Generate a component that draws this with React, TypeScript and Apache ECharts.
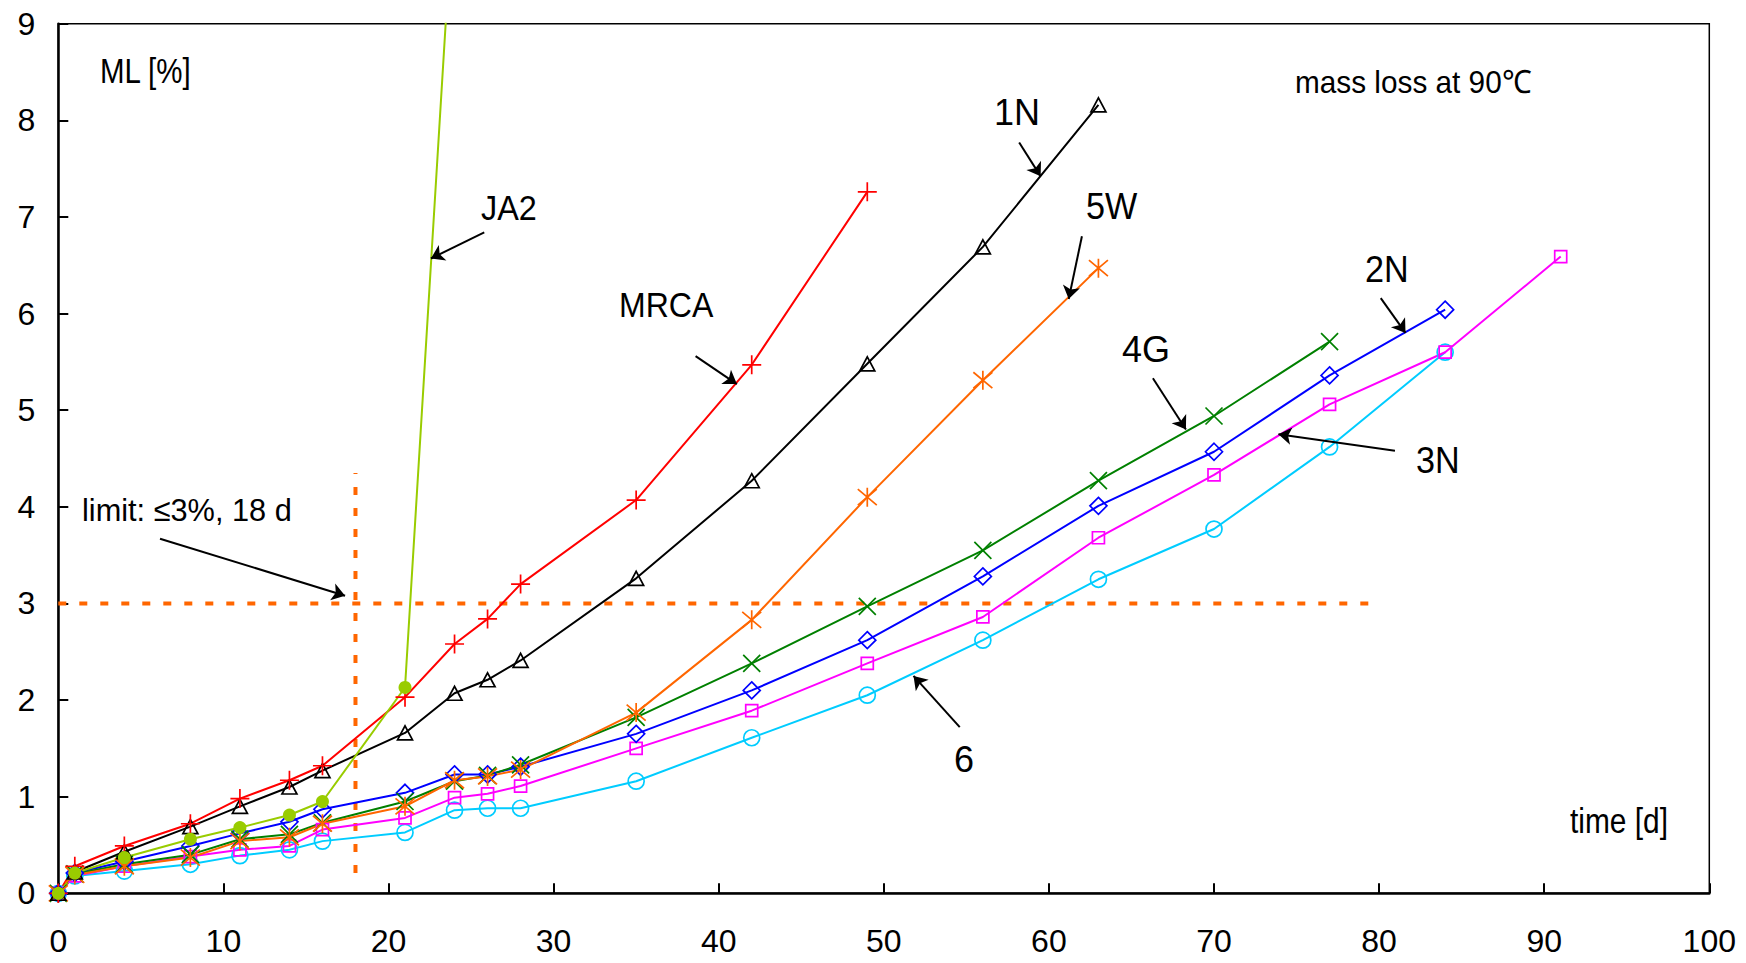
import React, { useEffect, useRef } from "react";
import * as echarts from "echarts";

// time [d]
const days = [0, 1, 4, 8, 11, 14, 16, 21, 24, 26, 28, 35, 42, 49, 56, 63, 70, 77, 84, 91];

// mass loss [%] per formulation (values follow the days array from day 0)
const mrcaValues = [0, 0.28, 0.49, 0.72, 0.98, 1.17, 1.32, 2.03, 2.58, 2.84, 3.2, 4.07, 5.47, 7.26];
const n1Values = [0, 0.22, 0.43, 0.69, 0.9, 1.1, 1.27, 1.66, 2.07, 2.21, 2.41, 3.26, 4.27, 5.48, 6.69, 8.16];
const ja2Values = [0, 0.21, 0.37, 0.56, 0.68, 0.81, 0.95, 2.13, 10.5];
const w5Values = [0, 0.19, 0.28, 0.37, 0.54, 0.58, 0.72, 0.9, 1.17, 1.21, 1.28, 1.87, 2.83, 4.1, 5.31, 6.47];
const g4Values = [0, 0.2, 0.3, 0.4, 0.56, 0.61, 0.73, 0.95, 1.16, 1.22, 1.33, 1.82, 2.38, 2.97, 3.55, 4.27, 4.94, 5.71];
const n2Values = [0, 0.21, 0.33, 0.49, 0.62, 0.74, 0.87, 1.04, 1.23, 1.23, 1.31, 1.65, 2.1, 2.62, 3.28, 4.01, 4.57, 5.36, 6.04];
const n3Values = [0, 0.18, 0.28, 0.38, 0.45, 0.49, 0.66, 0.78, 0.99, 1.03, 1.11, 1.5, 1.89, 2.38, 2.86, 3.68, 4.33, 5.06, 5.6, 6.59];
const s6Values = [0, 0.18, 0.23, 0.3, 0.39, 0.45, 0.54, 0.63, 0.86, 0.88, 0.88, 1.16, 1.61, 2.05, 2.62, 3.25, 3.77, 4.62, 5.6];

// limit: <= 3 %, 18 d
const limitHorizontal = [[0, 3], [80, 3]];
const limitVertical = [[18, 0.21], [18, 4.35]];

// axis ticks
const xTicks = { min: 0, max: 100, interval: 10 };
const yTicks = { min: 0, max: 9, interval: 1 };

// annotation arrows [fromX, fromY, toX, toY] in data units
const arrows = [
  [25.8, 6.84, 22.57, 6.57], // JA2
  [38.6, 5.56, 41.1, 5.27], // MRCA
  [58.2, 7.77, 59.5, 7.42], // 1N
  [62.0, 6.8, 61.2, 6.15], // 5W
  [80.1, 6.16, 81.6, 5.8], // 2N
  [66.3, 5.33, 68.3, 4.8], // 4G
  [80.96, 4.58, 73.9, 4.75], // 3N
  [54.6, 1.72, 51.8, 2.25], // 6
  [6.16, 3.67, 17.37, 3.08], // limit
];

const FONT = '"Liberation Sans", Arial, sans-serif';

const annotations = [
  { text: "ML [%]", x: 100, y: 70, size: 36, sx: 0.82 },
  { text: "time [d]", x: 1570, y: 820, size: 36, sx: 0.83 },
  { text: "mass loss at 90℃", x: 1295, y: 82, size: 32, sx: 0.93 },
  { text: "limit: ≤3%, 18 d", x: 82, y: 510, size: 32, sx: 0.96 },
  { text: "JA2", x: 481, y: 207, size: 36, sx: 0.9 },
  { text: "MRCA", x: 619, y: 304, size: 36, sx: 0.89 },
  { text: "1N", x: 994, y: 112, size: 36, sx: 1 },
  { text: "5W", x: 1086, y: 206, size: 36, sx: 0.95 },
  { text: "2N", x: 1365, y: 269, size: 36, sx: 0.95 },
  { text: "4G", x: 1122, y: 349, size: 36, sx: 1 },
  { text: "3N", x: 1416, y: 460, size: 36, sx: 0.95 },
  { text: "6", x: 954, y: 759, size: 36, sx: 1 },
];

const SYM = {
  plus: "path://M5,0L5,10M0,5L10,5",
  cross: "path://M0,0L10,10M10,0L0,10",
  star: "path://M5,0L5,10M0.8,0.8L9.2,9.2M9.2,0.8L0.8,9.2",
  diamond: "path://M5,0L10,5L5,10L0,5Z",
  square: "path://M0,0L10,0L10,10L0,10Z",
  triangle: "path://M5,0L10,9L0,9Z",
  circle: "path://M0,5A5,5,0,1,1,10,5A5,5,0,1,1,0,5Z",
};

function pairs(values: number[]) {
  return values.map((v, i) => [days[i], v]);
}

function dataSeries(name: string, values: number[], color: string, symbol: string, size: number | number[], filled = false) {
  return {
    name,
    type: "line",
    data: pairs(values),
    clip: true,
    symbol,
    symbolSize: size,
    showAllSymbol: true,
    lineStyle: { color, width: 2 },
    itemStyle: filled
      ? { color, borderColor: color, borderWidth: 0 }
      : { color: "transparent", borderColor: color, borderWidth: 1.7 },
    emphasis: { disabled: true },
    silent: true,
  };
}

export default function App() {
  const ref = useRef<HTMLDivElement>(null);

  useEffect(() => {
    document.body.style.margin = "0";
    if (!ref.current) return;
    const chart = echarts.init(ref.current, null, { renderer: "svg" });

    const option: any = {
      animation: false,
      backgroundColor: "#ffffff",
      grid: {
        left: 58.3,
        right: 36.7,
        top: 23.7,
        bottom: 69.7,
        show: true,
        borderColor: "#000",
        borderWidth: 1.5,
        outerBoundsMode: "none",
        containLabel: false,
      },
      xAxis: {
        type: "value",
        ...xTicks,
        axisLine: { show: true, onZero: false, lineStyle: { color: "#000", width: 2.5 } },
        axisTick: { show: true, inside: true, length: 10, lineStyle: { color: "#000", width: 2 } },
        splitLine: { show: false },
        axisLabel: { color: "#000", fontSize: 32, fontFamily: FONT, margin: 32 },
      },
      yAxis: {
        type: "value",
        ...yTicks,
        axisLine: { show: true, onZero: false, lineStyle: { color: "#000", width: 2.5 } },
        axisTick: { show: true, inside: true, length: 10, lineStyle: { color: "#000", width: 2 } },
        splitLine: { show: false },
        axisLabel: { color: "#000", fontSize: 32, fontFamily: FONT, margin: 23 },
      },
      series: [
        {
          name: "limit-h",
          type: "line",
          data: limitHorizontal,
          symbol: "none",
          silent: true,
          lineStyle: { color: "#FF6600", width: 4, type: [8, 13], cap: "butt" },
          markLine: {
            silent: true,
            symbol: ["none", "arrow"],
            symbolSize: 13,
            label: { show: false },
            lineStyle: { color: "#000", width: 2, type: "solid" },
            emphasis: { disabled: true },
            data: arrows.map((a) => [{ coord: [a[0], a[1]] }, { coord: [a[2], a[3]] }]),
          },
        },
        {
          name: "limit-v",
          type: "line",
          data: limitVertical,
          symbol: "none",
          silent: true,
          lineStyle: { color: "#FF6600", width: 4, type: [8, 13], cap: "butt" },
        },
        dataSeries("6", s6Values, "#00CCFF", SYM.circle, 16),
        dataSeries("3N", n3Values, "#FF00FF", SYM.square, 12),
        dataSeries("2N", n2Values, "#0000FF", SYM.diamond, 17),
        dataSeries("4G", g4Values, "#008000", SYM.cross, 17),
        dataSeries("5W", w5Values, "#FF6600", SYM.star, 19),
        dataSeries("1N", n1Values, "#000000", SYM.triangle, [15, 14]),
        dataSeries("MRCA", mrcaValues, "#FF0000", SYM.plus, 19),
        dataSeries("JA2", ja2Values, "#99CC00", "circle", 13, true),
      ],
      graphic: annotations.map((t) => ({
        type: "text",
        x: t.x,
        y: t.y,
        scaleX: t.sx,
        silent: true,
        style: {
          text: t.text,
          font: `${t.size}px ${FONT}`,
          fill: "#000",
          textAlign: "left",
          textVerticalAlign: "middle",
          verticalAlign: "middle",
        },
      })),
    };

    chart.setOption(option);
    return () => chart.dispose();
  }, []);

  return (
    <div
      ref={ref}
      style={{ position: "fixed", left: 0, top: 0, width: 1746, height: 963, background: "#fff" }}
    />
  );
}
